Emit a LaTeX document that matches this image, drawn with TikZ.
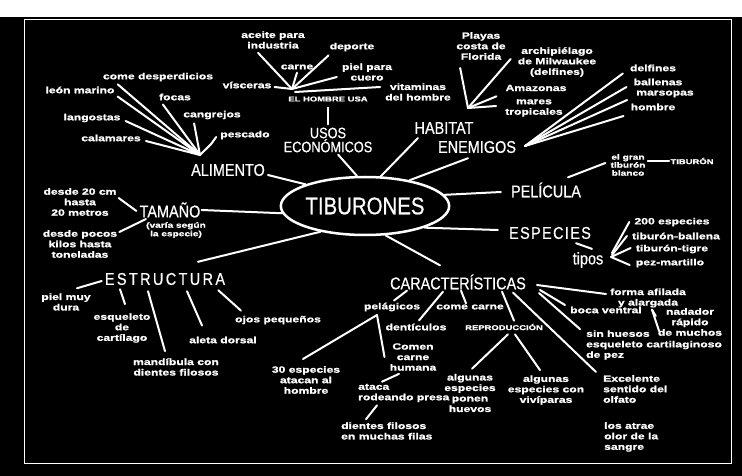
\documentclass[tikz,border=0pt]{standalone}
\usepackage{fontspec}
\usetikzlibrary{shapes.geometric,calc}
\newfontfamily\chalk[FakeStretch=1.35,FakeBold=1.2]{Liberation Sans Bold}
\newfontfamily\headf[FakeStretch=0.85,FakeBold=0.6]{Liberation Sans}
\tikzset{
 ln/.style={draw=white, line width=2pt, line cap=round},
 sm/.style={text=white, font=\chalk\fontsize{9}{10.5}\selectfont, align=center, inner sep=1pt},
 smcap/.style={text=white, font=\chalk\fontsize{7}{9}\selectfont, align=center, inner sep=1pt},
 hd/.style={text=white, font=\headf\fontsize{17}{18}\selectfont, inner sep=1pt},
}
\begin{document}
\begin{tikzpicture}[x=1pt,y=-1pt]
\useasboundingbox (0,0) rectangle (742,476);
\fill[white] (0,0) rectangle (742,476);
\fill[black] (0,17) rectangle (742,476);
\draw[white, line width=1pt] (24,20) rectangle (731,463);

% centre
\node[draw=white, line width=2.5pt, ellipse, minimum width=150pt, minimum height=58pt, inner sep=0pt, text=white, font=\headf\fontsize{24}{24}\selectfont] (c) at (365,206) {TIBURONES};

% headings
\node[hd] (al) at (228,170) {ALIMENTO};
\node[hd, align=center, font=\headf\fontsize{15}{14}\selectfont] (us) at (328,140) {USOS\\ECONÓMICOS};
\node[hd] (hab) at (444,128) {HABITAT};
\node[hd] (en) at (477,147) {ENEMIGOS};
\node[hd] (pe) at (546,190) {PELÍCULA};
\node[hd, font=\headf\fontsize{17}{18}\selectfont\addfontfeature{LetterSpace=8}] (esp) at (550,233) {ESPECIES};
\node[hd] (car) at (458,282) {CARACTERÍSTICAS};
\node[hd, font=\headf\fontsize{17}{18}\selectfont\addfontfeature{LetterSpace=14}] (est) at (165,279) {ESTRUCTURA};
\node[hd] (tam) at (170,210) {TAMAÑO};
\node[hd] (tip) at (588,260) {tipos};

% centre connectors
\draw[ln] ($(al.east)+(2,5)$) -- (c.160);
\draw[ln] ($(us.south)+(10,1)$) -- (c.105);
\draw[ln] ($(hab.south)+(-26,3)$) -- (c.62);
\draw[ln] ($(en.south)+(-9,4)$) -- (c.30);
\draw[ln] (c.8) -- ($(pe.west)+(-9,2)$);
\draw[ln] (c.-20) -- ($(esp.west)+(-10,-3)$);
\draw[ln] (c.-55) -- ($(car.north)+(-18,-8)$);
\draw[ln] (c.-150) -- ($(est.north)+(33,-10)$);
\draw[ln] (tam.east) -- (c.185);

% ALIMENTO
\coordinate (ac) at (200,155);
\node[sm] (a1) at (158,77) {come desperdicios};
\node[sm] (a2) at (80,90) {león marino};
\node[sm] (a3) at (175,97) {focas};
\node[sm] (a4) at (212,115) {cangrejos};
\node[sm] (a5) at (92,118) {langostas};
\node[sm] (a6) at (111,138) {calamares};
\node[sm] (a7) at (245,135) {pescado};
\draw[ln] ($(a1.south west)+(16,2)$) -- (ac);
\draw[ln] ($(a2.south east)+(2,2)$) -- (ac);
\draw[ln] ($(a3.south west)+(5,3)$) -- (ac);
\draw[ln] ($(a4.south west)+(12,3)$) -- (ac);
\draw[ln] ($(a5.east)+(4,3)$) -- (ac);
\draw[ln] ($(a6.east)+(4,3)$) -- (ac);
\draw[ln] ($(a7.west)+(-3,2)$) -- ($(a7.west)+(-8,9)$) -- (ac);

% USOS ECONOMICOS
\coordinate (uc) at (292,89);
\node[smcap] (ue) at (328,99) {EL HOMBRE USA};
\node[sm] (u1) at (273,40) {aceite para\\industria};
\node[sm] (u2) at (297,67) {carne};
\node[sm] (u3) at (352,47) {deporte};
\node[sm] (u4) at (367,72) {piel para\\cuero};
\node[sm] (u5) at (247,85) {vísceras};
\node[sm] (u6) at (418,92) {vitaminas\\del hombre};
\draw[ln] ($(u1.south)+(-15,3)$) -- (uc);
\draw[ln] ($(u2.south)+(0,2)$) -- (uc);
\draw[ln] ($(u3.south west)+(0,3)$) -- (uc);
\draw[ln] ($(u4.west)+(-4,5)$) -- (uc);
\draw[ln] ($(u5.east)+(2,2)$) -- (uc);
\draw[ln] ($(u6.west)+(-4,-5)$) -- ($(uc)+(3,3)$);
\draw[ln] ($(ue.south)+(0,5)$) -- ($(us.north)+(0,-2)$);

% HABITAT
\coordinate (hc) at (468,108);
\node[sm] (h1) at (481,46) {Playas\\costa de\\Florida};
\node[sm] (h2) at (557,62) {archipiélago\\de Milwaukee\\(delfines)};
\node[sm] (h3) at (536,88) {Amazonas};
\node[sm] (h4) at (534,108) {mares\\tropicales};
\draw[ln] ($(h1.south west)+(5,7)$) -- (hc);
\draw[ln] ($(h2.west)+(-6,-3)$) -- (hc);
\draw[ln] ($(h3.south west)+(-8,4)$) -- (hc);
\draw[ln] ($(h4.west)+(-8,-2)$) -- (hc);

% ENEMIGOS
\coordinate (ec) at (525,146);
\node[sm] (e1) at (653,68) {delfines};
\node[sm] (e2) at (658,82) {ballenas};
\node[sm] (e3) at (665,94) {marsopas};
\node[sm] (e4) at (653,107) {hombre};
\draw[ln] ($(e1.south west)+(-6,1)$) -- (ec);
\draw[ln] ($(e2.west)+(-6,5)$) -- (ec);
\draw[ln] ($(e3.west)+(-8,6)$) -- (ec);
\draw[ln] ($(e4.west)+(-6,9)$) -- (ec);

% PELICULA
\node[sm, font=\chalk\fontsize{7.5}{8}\selectfont] (p1) at (628,165) {el gran\\tiburón\\blanco};
\node[smcap] (p2) at (692,161) {TIBURÓN};
\draw[ln] ($(pe.north)+(22,-4)$) -- ($(p1.west)+(-4,-2)$);
\draw[ln, line width=1.5pt] ($(p1.east)+(1,-4)$) -- (p2.west);

% ESPECIES
\coordinate (tc) at (611,257);
\node[sm] (s1) at (672,222) {200 especies};
\node[sm] (s2) at (676,236) {tiburón-ballena};
\node[sm] (s3) at (672,249) {tiburón-tigre};
\node[sm] (s4) at (670,263) {pez-martillo};
\draw[ln] ($(esp.south east)+(-16,3)$) -- ($(tip.north)+(4,-2)$);
\draw[ln] ($(s1.west)+(-4,0)$) -- ($(tc)+(1,-4)$);
\draw[ln] ($(s2.west)+(-4,0)$) -- ($(tc)+(1,-2)$);
\draw[ln] ($(s3.west)+(-4,-1)$) -- (tc);
\draw[ln] ($(s4.west)+(-5,2)$) -- (tc);

% TAMANO
\node[sm, font=\chalk\fontsize{7.5}{8.5}\selectfont] (tv) at (176,230) {(varía según\\la especie)};
\node[sm] (t1) at (80,202) {desde 20 cm\\hasta\\20 metros};
\node[sm] (t2) at (80,244) {desde pocos\\kilos hasta\\toneladas};
\draw[ln] ($(t1.east)+(1,-4)$) -- ($(tam.west)+(-2,1)$);
\draw[ln] ($(t2.north east)+(1,3)$) -- ($(tv.north west)+(1,-2)$);

% ESTRUCTURA
\node[sm] (st1) at (66,302) {piel muy\\dura};
\node[sm] (st2) at (122,328) {esqueleto\\de\\cartílago};
\node[sm] (st3) at (176,367) {mandíbula con\\dientes filosos};
\node[sm] (st4) at (223,340) {aleta dorsal};
\node[sm] (st5) at (278,320) {ojos pequeños};
\draw[ln] ($(st1.north)+(11,-4)$) -- ($(est.west)+(-2,2)$);
\draw[ln] ($(est.south)+(-45,3)$) -- ($(st2.north)+(3,-8)$);
\draw[ln] ($(est.south)+(-17,5)$) -- ($(st3.north)+(-11,-6)$);
\draw[ln] ($(est.south)+(22,5)$) -- ($(st4.north)+(-21,-10)$);
\draw[ln] ($(est.south east)+(-8,4)$) -- ($(st5.north west)+(7,-4)$);

% CARACTERISTICAS
\node[sm] (c1) at (392,307) {pelágicos};
\node[sm] (c2) at (470,307) {come carne};
\node[sm] (c3) at (416,327) {dentículos};
\node[smcap] (c4) at (504,327) {REPRODUCCIÓN};
\draw[ln] ($(car.south west)+(18,0)$) -- ($(c1.north)+(2,-1)$);
\draw[ln] ($(car.south)+(3,0)$) -- ($(c2.north)+(-4,0)$);
\draw[ln] ($(car.south)+(-15,1)$) -- ($(c3.north)+(3,-2)$);
\draw[ln] ($(car.south)+(44,1)$) -- ($(c4.north)+(10,-2)$);

\node[sm] (r1) at (470,393) {algunas\\especies\\ponen\\huevos};
\node[sm] (r2) at (546,390) {algunas\\especies con\\vivíparas};
\draw[ln] ($(c4.south)+(4,3)$) -- ($(r1.north)+(2,-4)$);
\draw[ln] ($(c4.south)+(11,3)$) -- ($(r2.north)+(-6,-4)$);

\coordinate (pc) at (377,315);
\node[sm] (pe1) at (306,380) {30 especies\\atacan al\\hombre};
\node[sm] (pe2) at (413,357) {Comen\\carne\\humana};
\node[sm, anchor=west, align=left] (pe3) at (357,393) {ataca\\rodeando presa};
\node[sm, anchor=west, align=left] (pe4) at (340,431) {dientes filosos\\en muchas filas};
\draw[ln] (pc) -- ($(pe1.north)+(-3,-6)$);
\draw[ln] (pc) -- ($(pe2.west)+(-4,0)$);
\draw[ln] ($(pe2.south)+(-14,2)$) -- ($(pe3.north west)+(25,-1)$);
\draw[ln] ($(pe3.south west)+(20,2)$) -- ($(pe4.north west)+(26,-2)$);

\coordinate (cc) at (537,285);
\node[sm] (k1) at (648,298) {forma afilada\\y alargada};
\node[sm] (k2) at (606,310) {boca ventral};
\node[sm, anchor=west, align=left] (k3) at (585,345) {sin huesos\\esqueleto cartilaginoso\\de pez};
\node[sm] (k4) at (690,322) {nadador\\rápido\\de muchos};
\node[sm, anchor=west, align=left] (k5) at (602,389) {Excelente\\sentido del\\olfato};
\node[sm, anchor=west, align=left] (k6) at (603,437) {los atrae\\olor de la\\sangre};
\draw[ln] (cc) -- ($(k1.west)+(-3,-4)$);
\draw[ln] ($(cc)+(3,5)$) -- ($(k2.west)+(-4,-5)$);
\draw[ln] ($(cc)+(2,8)$) -- ($(k3.north west)+(-5,0)$);
\draw[ln] ($(car.south east)+(-14,2)$) -- ($(k5.north west)+(-6,-2)$);
\coordinate (kk) at ($(k1.south)+(4,1)$);
\draw[ln] (kk) -- ($(k4.west)+(-1,-6)$);
\draw[ln] (kk) -- ($(k3.north east)+(-64,2)$);
\end{tikzpicture}
\end{document}
